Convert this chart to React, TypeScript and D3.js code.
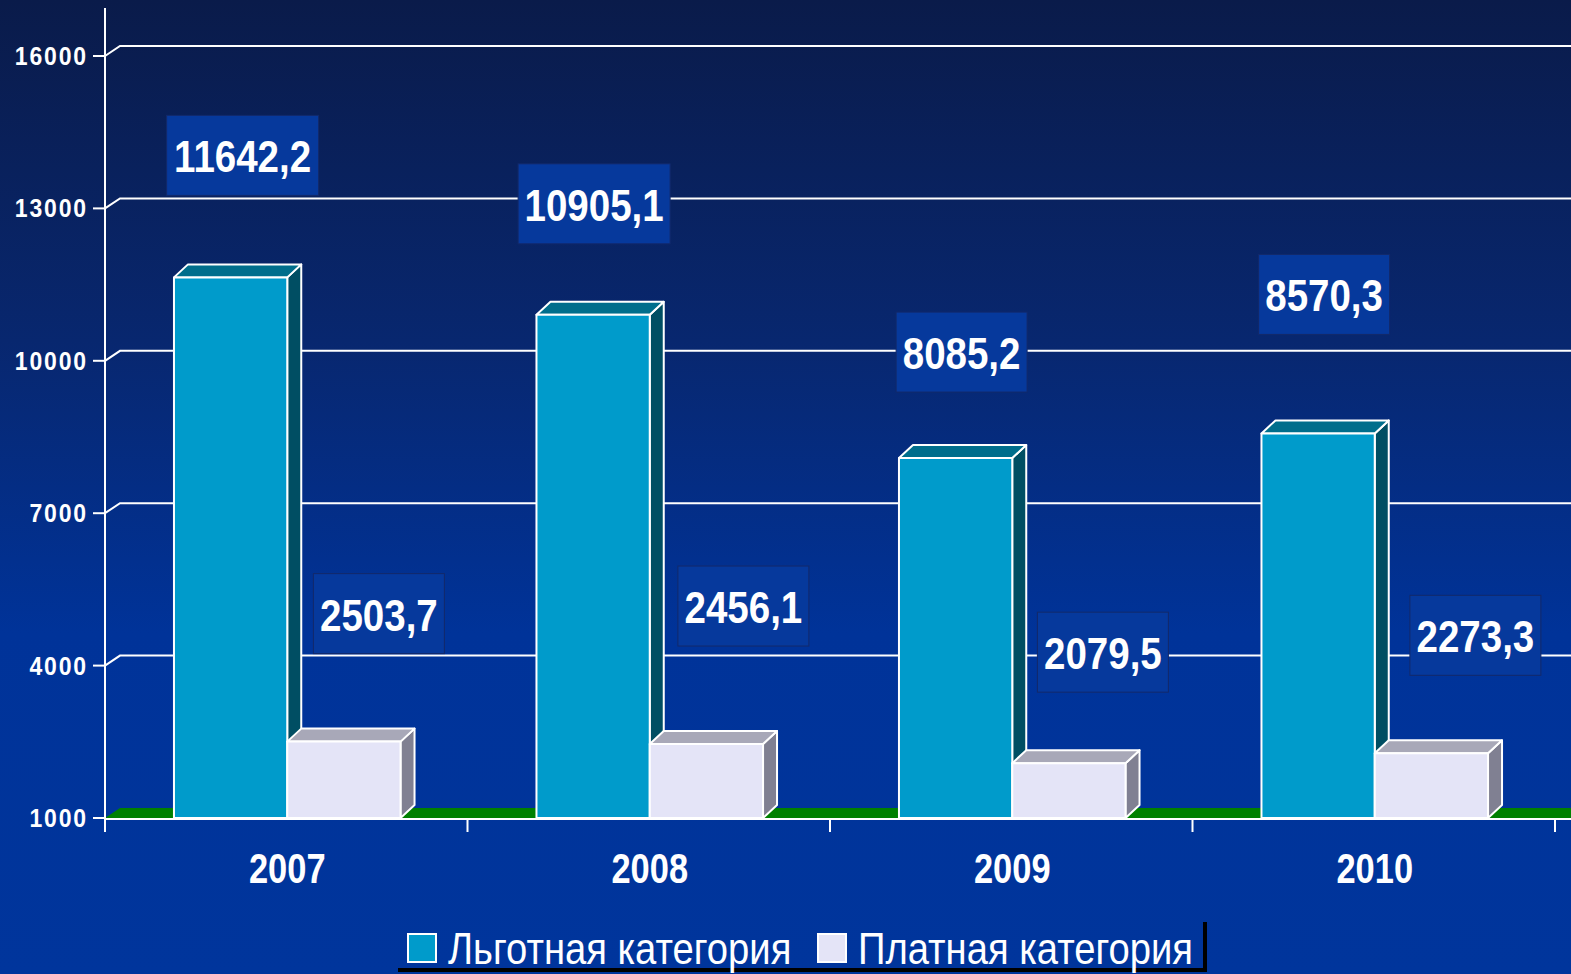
import React from "react";
import { scaleLinear, scaleBand } from "d3";

const years = ["2007", "2008", "2009", "2010"];
const seriesNames = ["Льготная категория", "Платная категория"];
const benefitValues = [11642.2, 10905.1, 8085.2, 8570.3];
const paidValues = [2503.7, 2456.1, 2079.5, 2273.3];
const yTicks = [1000, 4000, 7000, 10000, 13000, 16000];

// hand placement of the value boxes (as in the original slide)
const labelNudgeX = [
  [13, 2, 7, 7],
  [36, 38, 35, 45],
];
const labelNudgeY = [
  [-122, -111, -106, -139],
  [-128, -138, -111, -118],
];

const W = 1571;
const H = 974;
const left = 105;
const right = 1555;
const floorY = 818;
const topY = 56;
const wall = { dx: 15, dy: -10 };
const depth = { dx: 14, dy: -13 };
const font = "'Liberation Sans', Arial, sans-serif";

const faces = [
  { front: "#009bcb", top: "#006e8c", side: "#004e63" },
  { front: "#e4e4f7", top: "#a8a8b8", side: "#808092" },
];

const fmt = (v: number) => v.toFixed(1).replace(".", ",");

const Narrow = ({ x, y, size, weight = "bold", anchor = "middle", sx = 0.84, ls = 0, children }: any) => (
  <text
    transform={`translate(${x},${y}) scale(${sx},1)`}
    fontFamily={font}
    fontSize={size}
    fontWeight={weight}
    fill="white"
    textAnchor={anchor}
    letterSpacing={ls}
  >
    {children}
  </text>
);

export default function App() {
  const y = scaleLinear().domain([1000, 16000]).range([floorY, topY]);
  const x = scaleBand().domain(years).range([left, right]);
  const inner = scaleBand().domain(seriesNames).range([0, x.bandwidth()]).paddingInner(0).paddingOuter(0.6);
  const bw = inner.bandwidth();
  const seriesValues = [benefitValues, paidValues];

  const bars = years.flatMap((yr, i) =>
    seriesNames.map((s, k) => {
      const v = seriesValues[k][i];
      const x0 = (x(yr) as number) + (inner(s) as number) + 1;
      const x1 = x0 + bw;
      const yt = y(v);
      const c = faces[k];
      const topPts = `${x0},${yt} ${x0 + depth.dx},${yt + depth.dy} ${x1 + depth.dx},${yt + depth.dy} ${x1},${yt}`;
      const sidePts = `${x1},${yt} ${x1 + depth.dx},${yt + depth.dy} ${x1 + depth.dx},${floorY + depth.dy} ${x1},${floorY}`;
      return (
        <g key={yr + s} stroke="white" strokeWidth={2} strokeLinejoin="round">
          <polygon points={sidePts} fill={c.side} />
          <polygon points={topPts} fill={c.top} />
          <rect x={x0} y={yt} width={bw} height={floorY - yt} fill={c.front} />
        </g>
      );
    })
  );

  const labels = years.flatMap((yr, i) =>
    seriesNames.map((s, k) => {
      const v = seriesValues[k][i];
      const cx = (x(yr) as number) + (inner(s) as number) + bw / 2 + labelNudgeX[k][i];
      const cy = y(v) + labelNudgeY[k][i];
      const text = fmt(v);
      const bwid = text.length > 6 ? 152 : 131;
      return (
        <g key={"l" + yr + s}>
          <rect x={cx - bwid / 2} y={cy - 40} width={bwid} height={80} fill="#06399c" stroke="#13296a" strokeWidth={1} />
          <Narrow x={cx} y={cy + 17} size={44} sx={0.875}>
            {text}
          </Narrow>
        </g>
      );
    })
  );

  const floorPts = `${left},${floorY} ${left + wall.dx},${floorY + wall.dy} ${W + 20},${floorY + wall.dy} ${W + 20},${floorY}`;

  return (
    <svg width={W} height={H} style={{ position: "absolute", left: 0, top: 0 }}>
      <defs>
        <linearGradient id="bg" x1="0" y1="0" x2="0" y2="1">
          <stop offset="0" stopColor="#0a1b4a" />
          <stop offset="0.35" stopColor="#08276f" />
          <stop offset="0.65" stopColor="#003399" />
          <stop offset="1" stopColor="#00359c" />
        </linearGradient>
      </defs>
      <rect width={W} height={H} fill="url(#bg)" />

      {/* back wall grid lines */}
      {yTicks.filter((t) => t > 1000).map((t) => (
        <polyline
          key={t}
          points={`${left},${y(t)} ${left + wall.dx},${y(t) + wall.dy} ${W},${y(t) + wall.dy}`}
          fill="none"
          stroke="white"
          strokeWidth={2}
        />
      ))}

      {/* floor */}
      <polygon points={floorPts} fill="#008000" />

      {bars}

      {/* axes */}
      <line x1={left} y1={8} x2={left} y2={832} stroke="white" strokeWidth={2} />
      <line x1={left} y1={floorY + 1} x2={W} y2={floorY + 1} stroke="white" strokeWidth={2} />
      {years.map((yr) => (
        <line key={"t" + yr} x1={(x(yr) as number) + x.bandwidth()} y1={floorY} x2={(x(yr) as number) + x.bandwidth()} y2={832} stroke="white" strokeWidth={2} />
      ))}
      {yTicks.map((t) => (
        <g key={"yt" + t}>
          <line x1={93} y1={y(t)} x2={left} y2={y(t)} stroke="white" strokeWidth={2} />
          <Narrow x={88} y={y(t) + 9} size={25} anchor="end" sx={0.92} ls={2}>
            {t}
          </Narrow>
        </g>
      ))}
      {years.map((yr) => (
        <Narrow key={"xl" + yr} x={(x(yr) as number) + x.bandwidth() / 2 + 1} y={883} size={42} sx={0.82}>
          {yr}
        </Narrow>
      ))}

      {labels}

      {/* legend */}
      <line x1={398} y1={970} x2={1207} y2={970} stroke="black" strokeWidth={4} />
      <line x1={1205} y1={922} x2={1205} y2={972} stroke="black" strokeWidth={4} />
      {seriesNames.map((s, k) => {
        const lx = k === 0 ? 408 : 818;
        return (
          <g key={"lg" + s}>
            <rect x={lx} y={934} width={28} height={28} fill={faces[k].front} stroke="white" strokeWidth={2} />
            <Narrow x={lx + 40} y={964} size={44} weight="normal" anchor="start" sx={0.868}>
              {s}
            </Narrow>
          </g>
        );
      })}
    </svg>
  );
}
